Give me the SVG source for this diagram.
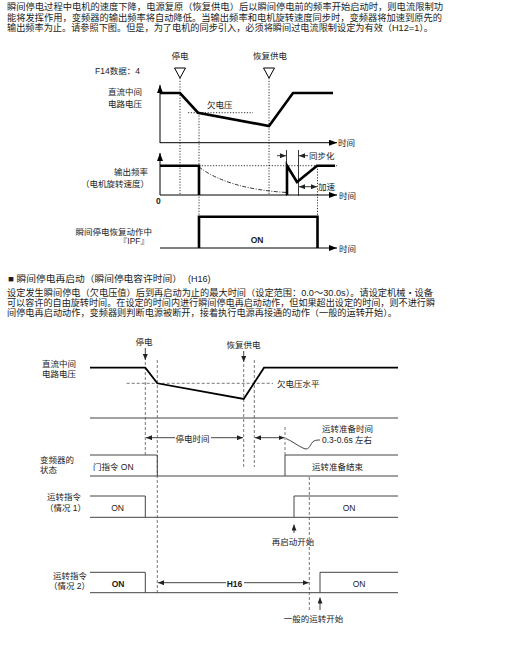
<svg xmlns="http://www.w3.org/2000/svg" width="519" height="656" viewBox="0 0 519 656">
<style>
text{font-family:"Liberation Sans","Noto Sans CJK SC",sans-serif;fill:#1a1a1a}
.p{font-size:9px}
.l{font-size:8.5px}
.m{font-size:8.5px;text-anchor:middle}
.r{font-size:8.5px;text-anchor:end}
.b{font-weight:bold}
.ax{stroke:#000;stroke-width:1;fill:none}
.thick{stroke:#000;stroke-width:2.6;fill:none;stroke-linejoin:miter}
.dot{stroke:#000;stroke-width:0.8;stroke-dasharray:1.2,1.6;fill:none}
.thin{stroke:#222;stroke-width:0.9;fill:none}
.sig{stroke:#444;stroke-width:1;fill:none}
.dash{stroke:#555;stroke-width:0.8;stroke-dasharray:3,2;fill:none}
.v2{stroke:#000;stroke-width:1.8;fill:none}
</style>
<defs>
<marker id="ah" viewBox="0 0 8 6" refX="8" refY="3" markerWidth="8" markerHeight="6" markerUnits="userSpaceOnUse" orient="auto-start-reverse"><path d="M0,0 L8,3 L0,6 z" fill="#000"/></marker>
<marker id="as" viewBox="0 0 6 5" refX="6" refY="2.5" markerWidth="6" markerHeight="5" markerUnits="userSpaceOnUse" orient="auto-start-reverse"><path d="M0,0 L6,2.5 L0,5 z" fill="#222"/></marker>
</defs>
<rect width="519" height="656" fill="#fff"/>

<g id="para1">
<text class="p" x="7" y="10" textLength="436" lengthAdjust="spacingAndGlyphs">瞬间停电过程中电机的速度下降，电源复原（恢复供电）后以瞬间停电前的频率开始启动时，则电流限制功</text>
<text class="p" x="7" y="20.5" textLength="435" lengthAdjust="spacingAndGlyphs">能将发挥作用，变频器的输出频率将自动降低。当输出频率和电机旋转速度同步时，变频器将加速到原先的</text>
<text class="p" x="7" y="30.5" textLength="426" lengthAdjust="spacingAndGlyphs">输出频率为止。请参照下图。但是，为了电机的同步引入，必须将瞬间过电流限制设定为有效（H12=1）。</text>
</g>

<g id="chart1-labels">
<text class="m" x="180" y="58.5">停电</text>
<text class="m" x="270" y="58.5">恢复供电</text>
<text class="l" x="95" y="73.5">F14数据：4</text>
<text class="r" x="142" y="95">直流中间</text>
<text class="r" x="142" y="106.5">电路电压</text>
<text class="l" x="207" y="107.5">欠电压</text>
<text class="l" x="338" y="145.5">时间</text>
<text class="l" x="309" y="158.5">同步化</text>
<text class="l" x="318" y="190">加速</text>
<text class="l" x="339" y="198.5">时间</text>
<text class="l b" x="156" y="204">0</text>
<text class="r" x="148" y="175">输出频率</text>
<text class="r" x="149" y="187">（电机旋转速度）</text>
<text class="r" x="152" y="235">瞬间停电恢复动作中</text>
<text class="r" x="149" y="243.5">『IPF』</text>
<text class="m b" x="257" y="243">ON</text>
<text class="l" x="339" y="251.5">时间</text>
</g>

<g id="chart1-markers">
<path d="M174.5,68 H185.5 L180,78 z" fill="#fff" stroke="#000" stroke-width="1"/>
<path d="M263.5,68 H274.5 L269,78 z" fill="#fff" stroke="#000" stroke-width="1"/>
</g>

<g id="chart1-axes">
<line class="ax" x1="160" y1="143" x2="160" y2="85" marker-end="url(#ah)"/>
<line class="ax" x1="160" y1="142.7" x2="337" y2="142.7" marker-end="url(#ah)"/>
<line class="ax" x1="160" y1="195" x2="160" y2="153" marker-end="url(#ah)"/>
<line class="ax" x1="160" y1="195" x2="337" y2="195" marker-end="url(#ah)"/>
<line class="ax" x1="160" y1="248" x2="337" y2="248" marker-end="url(#ah)"/>
</g>

<g id="chart1-guides">
<line class="dot" x1="180" y1="78" x2="180" y2="195"/>
<line class="dot" x1="199" y1="112.7" x2="199" y2="217"/>
<line class="dot" x1="269" y1="78" x2="269" y2="195"/>
<line class="dot" x1="317.5" y1="166" x2="317.5" y2="217"/>
<line class="dot" x1="188" y1="112.7" x2="253" y2="112.7"/>
<line class="dot" x1="199" y1="165.7" x2="337" y2="165.7"/>
<path d="M199,167 Q228,189 287,192.5" stroke="#000" stroke-width="0.8" stroke-dasharray="4,1.5,1,1.5" fill="none"/>
<line class="thin" x1="286.5" y1="150" x2="286.5" y2="196"/>
<line class="thin" x1="298.5" y1="150" x2="298.5" y2="196"/>
</g>

<g id="chart1-signals">
<path class="thick" d="M160,93 H180 L198,112.7 L269,126 L293,93 H333"/>
<path class="thick" d="M160,165.7 H199 V195"/>
<path class="thick" d="M287,195 V165.7 L297,182 L317,165.7 H335"/>
<path class="thick" d="M199,248 V216.7 H317.5 V248"/>
</g>

<g id="connectors">
<line class="thin" x1="277" y1="155.7" x2="286" y2="155.7" marker-end="url(#as)"/>
<line class="thin" x1="308" y1="155.7" x2="299" y2="155.7" marker-end="url(#as)"/>
<line class="thin" x1="299" y1="186.7" x2="317" y2="186.7" marker-start="url(#as)" marker-end="url(#as)"/>
<line class="sig" x1="145.3" y1="348" x2="145.3" y2="360" marker-end="url(#as)"/>
<line class="sig" x1="243.7" y1="351" x2="243.7" y2="362" marker-end="url(#as)"/>
<line class="sig" x1="146" y1="437.7" x2="175" y2="437.7" marker-start="url(#as)"/>
<line class="sig" x1="211" y1="437.7" x2="243" y2="437.7" marker-end="url(#as)"/>
<line class="sig" x1="255" y1="437.7" x2="284.5" y2="437.7" marker-start="url(#as)" marker-end="url(#as)"/>
<path class="sig" d="M286,438.5 C292,441 298,446 304,448.5 C310,451 310,443 314,441 C316,440 318,440 320,440"/>
<line class="sig" x1="294" y1="533" x2="294" y2="524.5" marker-end="url(#as)"/>
<line class="sig" x1="158" y1="582.7" x2="226" y2="582.7" marker-start="url(#as)"/>
<line class="sig" x1="244" y1="582.7" x2="308.8" y2="582.7" marker-end="url(#as)"/>
<line class="sig" x1="320" y1="610" x2="320" y2="597.5" marker-end="url(#as)"/>
</g>

<g id="para2">
<text class="p" x="8" y="281.5" textLength="174" lengthAdjust="spacingAndGlyphs">■ 瞬间停电再启动（瞬间停电容许时间）</text>
<text class="p" x="188" y="281.5">(H16)</text>
<text class="p" x="7" y="295.5" textLength="426" lengthAdjust="spacingAndGlyphs">设定发生瞬间停电（欠电压值）后到再启动为止的最大时间（设定范围：0.0～30.0s）。请设定机械・设备</text>
<text class="p" x="7" y="305.5" textLength="428" lengthAdjust="spacingAndGlyphs">可以容许的自由旋转时间。在设定的时间内进行瞬间停电再启动动作，但如果超出设定的时间，则不进行瞬</text>
<text class="p" x="7" y="315.5" textLength="390" lengthAdjust="spacingAndGlyphs">间停电再启动动作，变频器则判断电源被断开，接着执行电源再接通的动作（一般的运转开始）。</text>
</g>

<g id="chart2-labels">
<text class="m" x="144" y="345">停电</text>
<text class="m" x="243.5" y="348">恢复供电</text>
<text class="l" x="42" y="367">直流中间</text>
<text class="l" x="42" y="377">电路电压</text>
<text class="l" x="277" y="387">欠电压水平</text>
<text class="m" x="192.5" y="442">停电时间</text>
<text class="l" x="322" y="432">运转准备时间</text>
<text class="l" x="322" y="443">0.3-0.6s 左右</text>
<text class="l" x="40" y="462.5">变频器的</text>
<text class="l" x="40" y="472.5">状态</text>
<text class="l" x="93" y="470">门指令 ON</text>
<text class="l" x="312" y="470">运转准备结束</text>
<text class="l" x="47" y="500">运转指令</text>
<text class="l" x="45" y="511">（情况 1）</text>
<text class="m" x="117.5" y="511">ON</text>
<text class="m" x="349" y="511">ON</text>
<text class="m" x="293" y="545">再启动开始</text>
<text class="l" x="53" y="578.5">运转指令</text>
<text class="l" x="49" y="589">（情况 2）</text>
<text class="m b" x="118" y="587">ON</text>
<text class="m" x="359" y="587">ON</text>
<text class="m b" x="234.5" y="586.5">H16</text>
<text class="m" x="313.5" y="622">一般的运转开始</text>
</g>

<g id="chart2-guides">
<line class="dash" x1="126.7" y1="383.3" x2="273" y2="383.3"/>
<line class="dash" x1="145.3" y1="362" x2="145.3" y2="455"/>
<line class="dash" x1="157.3" y1="360" x2="157.3" y2="593"/>
<line class="dash" x1="243.7" y1="364" x2="243.7" y2="467"/>
<line class="dash" x1="254.3" y1="360" x2="254.3" y2="467"/>
<line class="dash" x1="285" y1="427" x2="285" y2="455"/>
<line class="dash" x1="309.3" y1="477" x2="309.3" y2="610"/>
</g>

<g id="chart2-signals">
<path class="v2" d="M90,367.7 H145.3 L157.3,383.3 L243.7,399 L264,367.7 H398"/>
<line class="sig" x1="90" y1="418" x2="398" y2="418"/>
<path class="sig" d="M90,455 H157.3 V476 M90,476 H398 M285,476 V455 H398"/>
<path class="sig" d="M90,496 H145.3 V517.3 M90,517.3 H398 M294,517.3 V496 H398"/>
<path class="sig" d="M90,572.3 H145.3 V592.7 M90,592.7 H398 M320,592.7 V572.3 H398"/>
</g>
</svg>
